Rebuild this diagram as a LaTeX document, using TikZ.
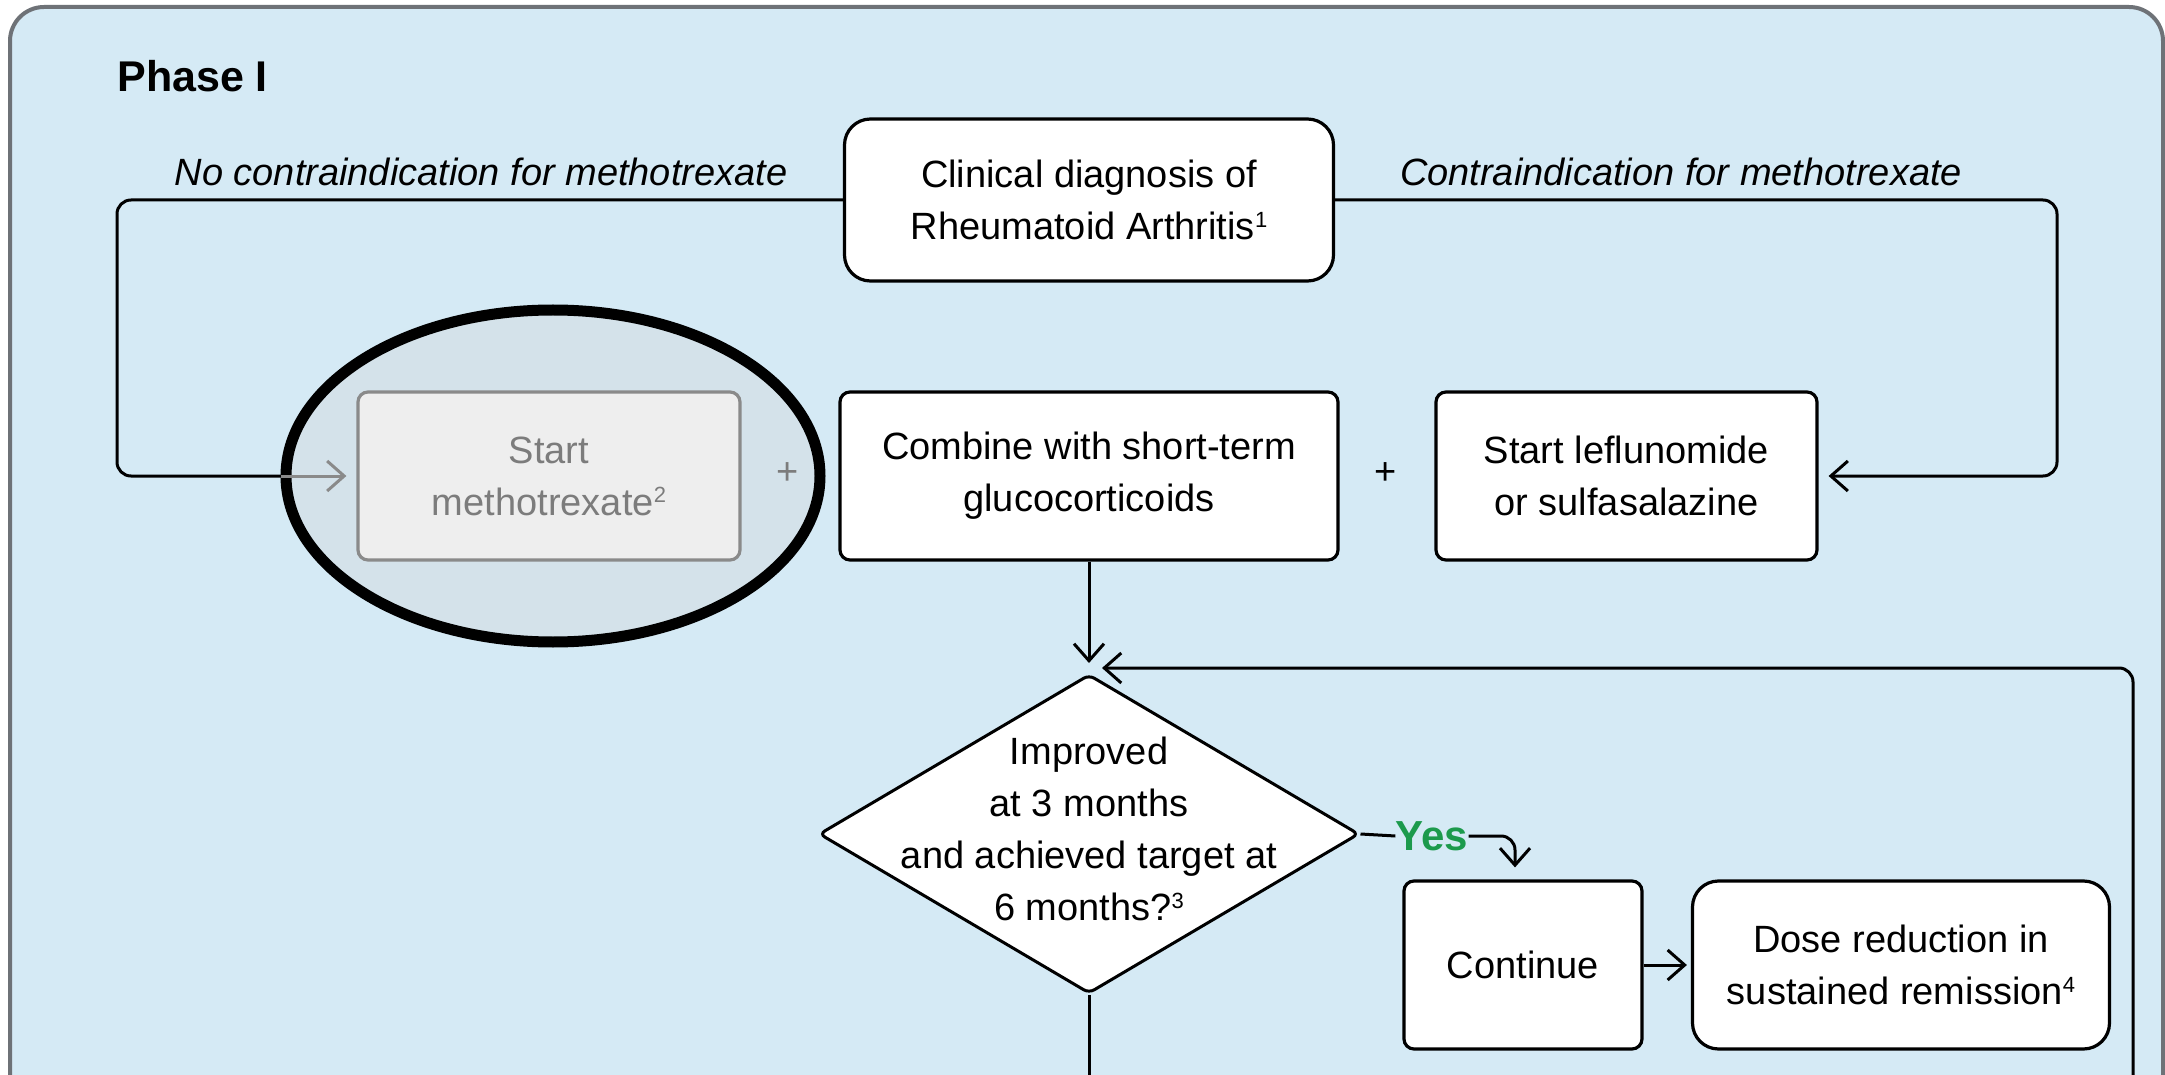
\documentclass[tikz,border=0pt]{standalone}
\usepackage{fontspec}
\setmainfont{Liberation Sans}
\usetikzlibrary{shapes.geometric,arrows.meta}
\definecolor{panelbg}{HTML}{D5EAF5}
\definecolor{framegrey}{HTML}{6E7277}
\definecolor{fadefill}{HTML}{EEEEEE}
\definecolor{fadeline}{HTML}{8A8A8A}
\definecolor{fadetext}{HTML}{7C7C7C}
\definecolor{haloFill}{HTML}{D4E2EA}
\definecolor{yesgreen}{HTML}{1C9A4C}
\newcommand{\fnref}[1]{\raisebox{0.33em}{\fontsize{11}{11}\selectfont #1}}
\tikzset{
  txt/.style={font=\fontsize{19}{26}\selectfont, align=center, inner sep=0pt},
  box/.style={txt, draw=black, line width=1.6pt, fill=white, rounded corners=5pt},
  roundbox/.style={box, rounded corners=13pt},
  fadedbox/.style={box, draw=fadeline, fill=fadefill, text=fadetext},
  conn/.style={line width=1.5pt, rounded corners=7pt},
  arr/.style={conn, -{Straight Barb[length=8.5pt,width=15pt,line width=1.5pt]}, shorten >=5pt},
  fadearr/.style={arr, draw=fadeline},
  branch/.style={txt, font=\fontsize{19}{26}\selectfont\itshape},
}
\begin{document}
\begin{tikzpicture}[x=0.5pt,y=-0.5pt]
\useasboundingbox (0,0) rectangle (2165,1075);
\begin{scope}
\clip (0,0) rectangle (2165,1075);
\fill[white] (0,0) rectangle (2165,1075);
% panel
\draw[fill=panelbg, draw=framegrey, line width=2pt, rounded corners=17pt] (10,7) rectangle (2163,1250);

\node[anchor=base west, inner sep=0pt, font=\fontsize{21.5}{26}\selectfont\bfseries] (phase) at (117,92) {Phase I};

% top of the tree
\node[roundbox, minimum width=244.5pt, minimum height=81pt] (clin) at (1089,200)
  {Clinical diagnosis of\\Rheumatoid Arthritis\fnref{1}};
\node[branch] (lblno) at (481,172) {No contraindication for methotrexate};
\node[branch] (lblci) at (1681,172) {Contraindication for methotrexate};

% first-line therapy row
\node[box, minimum width=249pt, minimum height=84pt] (comb) at (1089,476)
  {Combine with short-term\\glucocorticoids};
\node[box, minimum width=190.5pt, minimum height=84pt] (lef) at (1626.5,476)
  {Start leflunomide\\or sulfasalazine};
\node[txt] (plusb) at (1386,474) {+};

\coordinate (lc) at (117,476);
\coordinate (rc) at (2057,476);

% highlight ring round the methotrexate option
\node[draw=none, shape=ellipse, minimum width=267pt, minimum height=166pt, inner sep=0pt] (hl) at (553,476) {};
\draw[conn] (clin.west) -| (lc) -- (hl.west);
\node[shape=ellipse, draw=black, fill=haloFill, line width=5.5pt, minimum width=267pt, minimum height=166pt, inner sep=0pt] (ring) at (553,476) {};
\node[fadedbox, minimum width=191pt, minimum height=84pt] (start) at (549,476)
  {Start\\methotrexate\fnref{2}};
\node[txt, text=fadetext] (plusa) at (788,474) {+};
\draw[fadearr] (ring.west) -- (start.west);
\draw[arr] (clin.east) -| (rc) -- (lef.east);

% decision
\node[shape=diamond, draw=black, fill=white, line width=1.5pt, rounded corners=3pt,
      minimum width=270pt, minimum height=159.5pt, inner sep=0pt] (dia) at (1089,834) {};
\node[txt] (diatext) at (1089,829)
  {Improved\\at 3 months\\and achieved target at\\6 months?\fnref{3}};
\draw[arr] (comb.south) -- (dia.north);

% feedback loop
\coordinate (loopin) at (2133,1200);
\coordinate (loopend) at (1102,668);
\draw[arr, shorten >=0pt] (loopin) |- (loopend);

% yes branch
\node[txt, font=\fontsize{21}{26}\selectfont\bfseries, text=yesgreen] (yes) at (1432,836) {Yes};
\node[box, minimum width=119pt, minimum height=84pt] (cont) at (1523,965) {Continue};
\node[roundbox, minimum width=208.5pt, minimum height=84pt] (dose) at (1901,965)
  {Dose reduction in\\sustained remission\fnref{4}};
\draw[conn] (dia.east) -- (yes.west);
\draw[arr, shorten >=6pt] (yes.east) -| ([xshift=-4pt]cont.north);
\draw[arr, shorten >=2pt] (cont.east) -- (dose.west);

% no branch continues below
\coordinate (diaout) at (1089,1200);
\draw[conn] (dia.south) -- (diaout);
\end{scope}
\end{tikzpicture}
\end{document}
